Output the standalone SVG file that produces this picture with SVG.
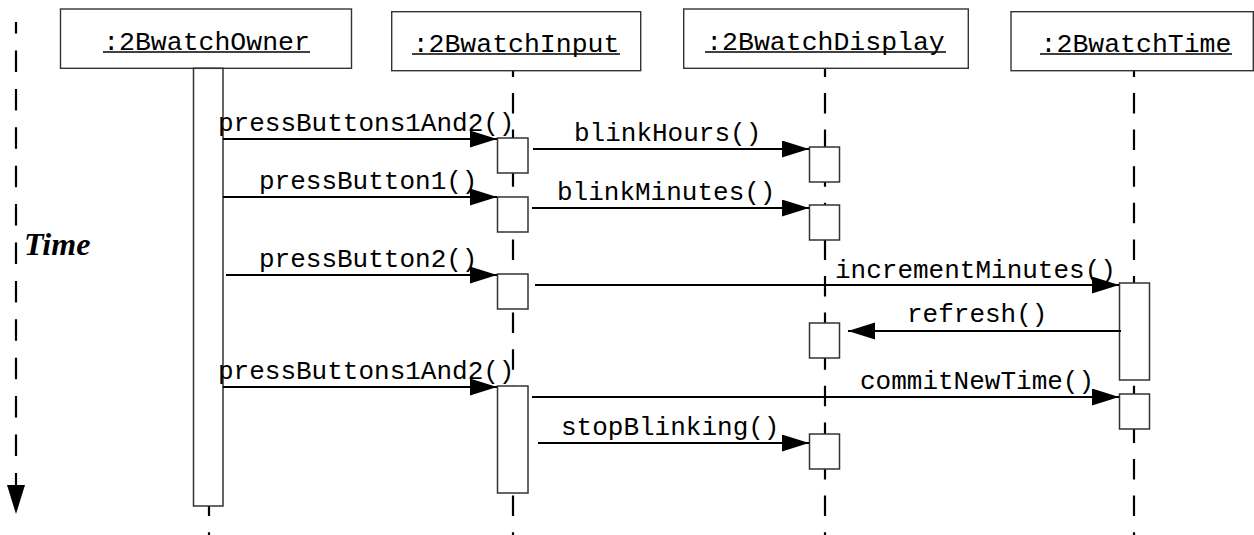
<svg xmlns="http://www.w3.org/2000/svg" width="1254" height="535" viewBox="0 0 1254 535">
  <defs>
    <marker id="arrow" markerUnits="userSpaceOnUse" markerWidth="28" markerHeight="18" refX="27" refY="8.5" orient="auto">
      <path d="M0,0 L27,8.5 L0,17 z" fill="#000"/>
    </marker>
    <style>
      .hdr { fill: #fff; stroke: #333; stroke-width: 1.4; }
      .act { fill: #fff; stroke: #333; stroke-width: 1.5; }
      .life { stroke: #000; stroke-width: 2.2; stroke-dasharray: 20.5 16.1; fill: none; }
      .msg { stroke: #000; stroke-width: 2.2; fill: none; marker-end: url(#arrow); }
      .ul { stroke: #000; stroke-width: 1.4; }
      .name { font-family: "Liberation Mono", "Courier New", monospace; font-size: 26.5px; fill: #000; text-anchor: middle; }
      .lbl { font-family: "Liberation Mono", "Courier New", monospace; font-size: 26px; fill: #000; }
      .axis { font-family: "Liberation Serif", "Times New Roman", serif; font-size: 32px; font-weight: bold; font-style: italic; fill: #000; }
    </style>
  </defs>
  <rect width="1254" height="535" fill="#fff"/>

  <!-- time axis -->
  <g id="time-axis">
    <line x1="16" y1="22" x2="16" y2="486" stroke="#000" stroke-width="2.2" stroke-dasharray="21.5 16.9" stroke-dashoffset="9.9"/>
    <path d="M7,485 L25,485 L16,514 z" fill="#000"/>
    <text class="axis" x="24" y="255">Time</text>
  </g>

  <!-- participant: watch owner -->
  <g id="owner">
    <line class="life" x1="209" y1="506" x2="209" y2="535" stroke-dashoffset="10.4"/>
    <rect class="hdr" x="60.5" y="9" width="291" height="59.3"/>
    <text class="name" x="206.5" y="49.5">:2BwatchOwner</text>
    <line class="ul" x1="103" y1="52" x2="310" y2="52"/>
    <rect class="act" x="193.5" y="68.3" width="29.5" height="437.7"/>
  </g>

  <!-- participant: watch input -->
  <g id="input">
    <line class="life" x1="513" y1="70.7" x2="513" y2="535" stroke-dashoffset="14.3"/>
    <rect class="hdr" x="391.7" y="11.7" width="249" height="59"/>
    <text class="name" x="516" y="51.5">:2BwatchInput</text>
    <line class="ul" x1="412" y1="54" x2="620" y2="54"/>
    <rect class="act" x="497.5" y="138" width="30.5" height="35"/>
    <rect class="act" x="497.5" y="197" width="30.5" height="35"/>
    <rect class="act" x="497.5" y="274" width="30.5" height="35"/>
    <rect class="act" x="497.5" y="386" width="30.5" height="107"/>
  </g>

  <!-- participant: watch display -->
  <g id="display">
    <line class="life" x1="825" y1="68.3" x2="825" y2="535" stroke-dashoffset="11.9"/>
    <rect class="hdr" x="683.7" y="9" width="284.6" height="59.3"/>
    <text class="name" x="825.5" y="49.5">:2BwatchDisplay</text>
    <line class="ul" x1="705" y1="52" x2="946" y2="52"/>
    <rect class="act" x="809.5" y="147" width="30" height="35"/>
    <rect class="act" x="809.5" y="205" width="30" height="35"/>
    <rect class="act" x="809.5" y="323" width="30" height="35"/>
    <rect class="act" x="809.5" y="434" width="30" height="35"/>
  </g>

  <!-- participant: watch time -->
  <g id="time">
    <line class="life" x1="1134" y1="70.7" x2="1134" y2="535" stroke-dashoffset="14.3"/>
    <rect class="hdr" x="1011" y="11.7" width="242.3" height="59"/>
    <text class="name" x="1136" y="51.5">:2BwatchTime</text>
    <line class="ul" x1="1040" y1="54" x2="1232" y2="54"/>
    <rect class="act" x="1119.5" y="283" width="30" height="97"/>
    <rect class="act" x="1119.5" y="394" width="30" height="35"/>
  </g>

  <!-- messages -->
  <g id="connectors">
    <line class="msg" x1="223" y1="139" x2="497" y2="139"/>
    <text class="lbl" x="218" y="131">pressButtons1And2()</text>

    <line class="msg" x1="533" y1="149" x2="809" y2="149"/>
    <text class="lbl" x="574" y="141">blinkHours()</text>

    <line class="msg" x1="223" y1="197" x2="497" y2="197"/>
    <text class="lbl" x="259" y="189">pressButton1()</text>

    <line class="msg" x1="532" y1="208" x2="809" y2="208"/>
    <text class="lbl" x="557" y="200">blinkMinutes()</text>

    <line class="msg" x1="226" y1="275" x2="497" y2="275"/>
    <text class="lbl" x="259" y="267">pressButton2()</text>

    <line class="msg" x1="535" y1="285" x2="1119" y2="285"/>
    <text class="lbl" x="835" y="278">incrementMinutes()</text>

    <line class="msg" x1="1121" y1="331" x2="848" y2="331"/>
    <text class="lbl" x="907" y="322">refresh()</text>

    <line class="msg" x1="223" y1="387" x2="497" y2="387"/>
    <text class="lbl" x="218" y="379">pressButtons1And2()</text>

    <line class="msg" x1="532" y1="397" x2="1119" y2="397"/>
    <text class="lbl" x="860" y="389">commitNewTime()</text>

    <line class="msg" x1="538" y1="443" x2="809" y2="443"/>
    <text class="lbl" x="561" y="435">stopBlinking()</text>
  </g>
</svg>
